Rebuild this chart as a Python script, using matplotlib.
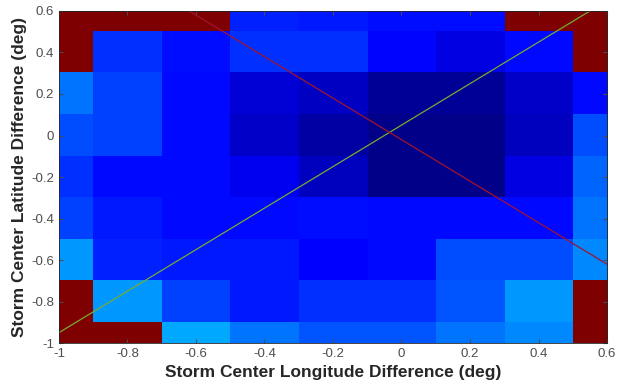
import numpy as np
import matplotlib
matplotlib.use("Agg")
import matplotlib.pyplot as plt

plt.rcParams['font.family'] = ['Liberation Sans', 'DejaVu Sans']

# grid centres (deg)
lon = [-1.0, -0.8, -0.6, -0.4, -0.2, 0.0, 0.2, 0.4, 0.6]
lat = [0.6, 0.4, 0.2, 0.0, -0.2, -0.4, -0.6, -0.8, -1.0]

# normalised error values, rows top (lat 0.6) to bottom (lat -1)
row_p06 = [1.00, 1.00, 1.00, 0.16, 0.15, 0.14, 0.14, 1.00, 1.00]
row_p04 = [1.00, 0.175, 0.14, 0.175, 0.175, 0.13, 0.088, 0.135, 1.00]
row_p02 = [0.24, 0.19, 0.135, 0.077, 0.06, 0.022, 0.022, 0.066, 0.135]
row_000 = [0.20, 0.19, 0.135, 0.066, 0.035, 0.011, 0.011, 0.055, 0.20]
row_m02 = [0.175, 0.135, 0.135, 0.10, 0.055, 0.011, 0.011, 0.088, 0.225]
row_m04 = [0.19, 0.15, 0.135, 0.135, 0.14, 0.135, 0.135, 0.135, 0.24]
row_m06 = [0.275, 0.16, 0.15, 0.15, 0.12, 0.135, 0.20, 0.20, 0.26]
row_m08 = [1.00, 0.275, 0.19, 0.15, 0.175, 0.175, 0.21, 0.275, 1.00]
row_m10 = [1.00, 1.00, 0.29, 0.24, 0.21, 0.21, 0.24, 0.26, 1.00]

# fitted trend lines (endpoints)
line1_x = [-1.0, 0.55]
line1_y = [-0.95, 0.60]
line2_x = [-0.62, 0.60]
line2_y = [0.60, -0.62]

grid = np.array([row_p06, row_p04, row_p02, row_000, row_m02,
                 row_m04, row_m06, row_m08, row_m10])

fig = plt.figure(figsize=(6.17, 3.9), dpi=100)
ax = fig.add_axes([0.0956, 0.1205, 0.8882, 0.8513])

step = lon[1] - lon[0]
ax.imshow(grid, cmap='jet', vmin=0, vmax=1, origin='upper', aspect='auto',
          interpolation='nearest',
          extent=[lon[0] - step/2, lon[-1] + step/2,
                  lat[-1] - step/2, lat[0] + step/2])

ax.plot(line1_x, line1_y, color=(0.47, 0.67, 0.19), lw=0.9)
ax.plot(line2_x, line2_y, color=(0.64, 0.08, 0.18), lw=0.9)

ax.set_xlim(-1, 0.6)
ax.set_ylim(-1, 0.6)
ticks = [-1, -0.8, -0.6, -0.4, -0.2, 0, 0.2, 0.4, 0.6]
labels = ['-1', '-0.8', '-0.6', '-0.4', '-0.2', '0', '0.2', '0.4', '0.6']
ax.set_xticks(ticks)
ax.set_xticklabels(labels)
ax.set_yticks(ticks)
ax.set_yticklabels(labels)
ax.tick_params(direction='in', length=3, labelsize=9.5, colors=(0.3, 0.3, 0.3),
               top=True, right=True)
for s in ax.spines.values():
    s.set_color((0.15, 0.15, 0.15))
    s.set_linewidth(0.6)

ax.set_xlabel('Storm Center Longitude Difference (deg)', fontsize=12.5,
              fontweight='bold', color=(0.15, 0.15, 0.15), labelpad=4)
ax.set_ylabel('Storm Center Latitude Difference (deg)', fontsize=12.5,
              fontweight='bold', color=(0.15, 0.15, 0.15), labelpad=3)

fig.savefig('out.png', dpi=100)
